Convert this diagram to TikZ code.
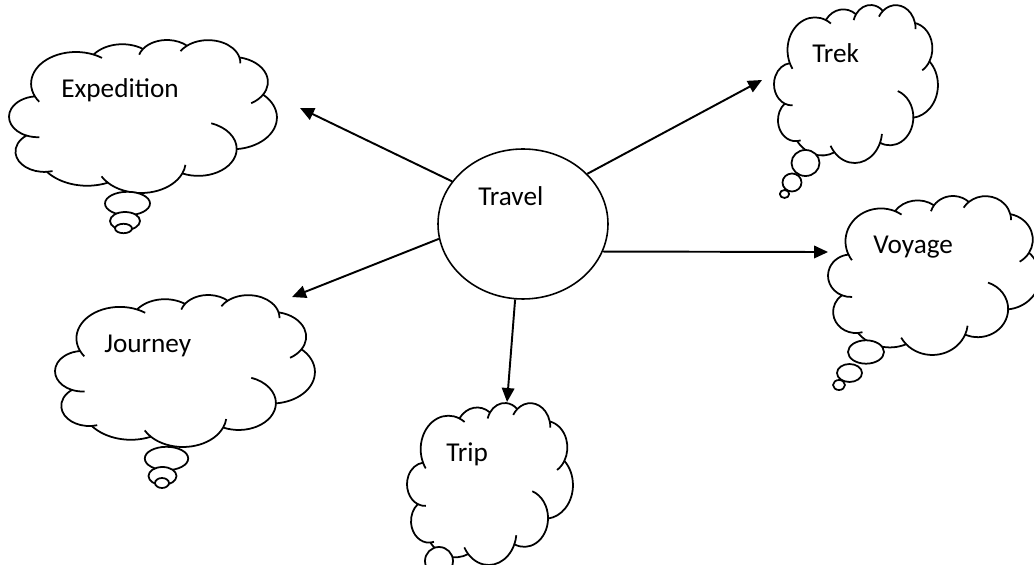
\documentclass[tikz,border=0pt]{standalone}
\usepackage{fontspec}
\setmainfont{Carlito}
\usetikzlibrary{arrows.meta,shapes.geometric}

\tikzset{
	cloudline/.style={line width=1pt, line join=round},
	word/.style={font=\fontsize{15.5}{18}\selectfont, inner sep=0pt, anchor=base west},
	link/.style={line width=1.1pt, -{Triangle[length=2.8mm,width=2.5mm]}}
}

% cloud outline in a 40 x 44 box, then the short inner arcs
\newcommand{\thoughtcloud}[4]{%
	\begin{scope}[shift={(#1,#2)}, xscale=#3, yscale=#4]
		\draw[cloudline, fill=white] (4.36,16.41) coordinate (p0)
			arc[start angle=156.2, delta angle=137.1, x radius=6.753pt, y radius=9.19pt] coordinate (p1)
			arc[start angle=-144.10, delta angle=89.95, x radius=5.333pt, y radius=7.267pt] coordinate (p2)
			arc[start angle=-145.81, delta angle=99.72, x radius=4.365pt, y radius=5.945pt] coordinate (p3)
			arc[start angle=-130.99, delta angle=117.24, x radius=4.857pt, y radius=6.595pt] coordinate (p4)
			arc[start angle=-78.71, delta angle=109.03, x radius=5.333pt, y radius=7.273pt] coordinate (p5)
			arc[start angle=-46.27, delta angle=130.27, x radius=6.775pt, y radius=9.22pt] coordinate (p6)
			arc[start angle=0.63, delta angle=114.03, x radius=5.785pt, y radius=7.867pt] coordinate (p7)
			arc[start angle=22.45, delta angle=115.17, x radius=6.752pt, y radius=9.215pt] coordinate (p8)
			arc[start angle=66.24, delta angle=75.71, x radius=7.72pt, y radius=10.543pt] coordinate (p9)
			arc[start angle=85.06, delta angle=146.74, x radius=4.36pt, y radius=5.918pt] coordinate (p10)
			arc[start angle=113.17, delta angle=151.03, x radius=4.345pt, y radius=5.945pt]
			-- cycle;
		\draw[cloudline]
			(p0) arc[start angle=156.2, delta angle=-11.2, x radius=6.753pt, y radius=9.19pt]
			(p1) arc[start angle=-66.71, delta angle=12.32, x radius=6.753pt, y radius=9.19pt]
			(p2) arc[start angle=-145.81, delta angle=-17.69, x radius=4.365pt, y radius=5.945pt]
			(p3) arc[start angle=-130.99, delta angle=-18.20, x radius=4.857pt, y radius=6.595pt]
			(p4) arc[start angle=-13.75, delta angle=14.86, x radius=4.857pt, y radius=6.595pt]
			(p5) arc[start angle=30.32, delta angle=27.75, x radius=5.333pt, y radius=7.273pt]
			(p6) arc[start angle=0.63, delta angle=-70.92, x radius=5.785pt, y radius=7.867pt]
			(p7) arc[start angle=22.45, delta angle=-16.00, x radius=6.752pt, y radius=9.215pt]
			(p8) arc[start angle=137.62, delta angle=14.08, x radius=6.752pt, y radius=9.215pt]
			(p9) arc[start angle=85.06, delta angle=-11.45, x radius=4.36pt, y radius=5.918pt]
			(p10) arc[start angle=113.17, delta angle=-26.43, x radius=4.345pt, y radius=5.945pt];
	\end{scope}%
}

\begin{document}
\begin{tikzpicture}[x=1pt, y=1pt, scale=0.5691, yscale=-1]
	\useasboundingbox (0,0) rectangle (1034,565);

	\thoughtcloud{5.98}{39.91}{6.634}{3.441}
	\draw[cloudline, fill=white] (127.5,203.5) ellipse [x radius=22.5pt, y radius=11.7pt];
	\draw[cloudline, fill=white] (125,221) ellipse [x radius=15pt, y radius=9pt];
	\draw[cloudline, fill=white] (123.5,228.5) ellipse [x radius=8.5pt, y radius=4.7pt];

	\thoughtcloud{772.15}{4.91}{4.059}{3.553}
	\draw[cloudline, fill=white] (805.5,163) ellipse [x radius=14pt, y radius=13pt];
	\draw[cloudline, fill=white] (792,182.5) ellipse [x radius=9.5pt, y radius=9pt];
	\draw[cloudline, fill=white] (784.5,194) ellipse [x radius=4.7pt, y radius=4pt];

	\thoughtcloud{825.61}{195.91}{5.248}{3.575}
	\draw[cloudline, fill=white] (866,352) ellipse [x radius=18pt, y radius=11.7pt];
	\draw[cloudline, fill=white] (849.5,373) ellipse [x radius=12.5pt, y radius=9pt];
	\draw[cloudline, fill=white] (839,385) ellipse [x radius=6pt, y radius=5pt];

	\thoughtcloud{52.07}{294.91}{6.436}{3.418}
	\draw[cloudline, fill=white] (166.5,458.5) ellipse [x radius=21.7pt, y radius=11.7pt];
	\draw[cloudline, fill=white] (162.5,476) ellipse [x radius=14pt, y radius=9pt];
	\draw[cloudline, fill=white] (162,483) ellipse [x radius=7pt, y radius=5pt];

	\thoughtcloud{405.13}{402.91}{4.109}{3.643}
	\draw[cloudline, fill=white] (439,561) ellipse [x radius=14pt, y radius=14pt];

	\node[ellipse, draw, line width=0.9pt, inner sep=0pt, minimum width=3.4cm, minimum height=3cm] (travel) at (523,224) {};
	\node[word] (traveltxt) at (478,206) {Travel};
	\node[word] (expedition) at (61,98) {Expedition};
	\node[word] (trek) at (812,63) {Trek};
	\node[word] (voyage) at (873,254) {Voyage};
	\node[word] (journey) at (104,353) {Journey};
	\node[word] (trip) at (446,462) {Trip};

	\coordinate (exptip) at (300,108);
	\coordinate (trektip) at (762,80);
	\coordinate (voytip) at (828,252);
	\coordinate (jourtip) at (292,297);
	\coordinate (triptip) at (507,402);

	\draw[link] (travel.149.5) -- (exptip);
	\draw[link] (travel.38) -- (trektip);
	\draw[link] (travel.-19) -- (voytip);
	\draw[link] (travel.190.7) -- (jourtip);
	\draw[link] (travel.264) -- (triptip);
\end{tikzpicture}
\end{document}
